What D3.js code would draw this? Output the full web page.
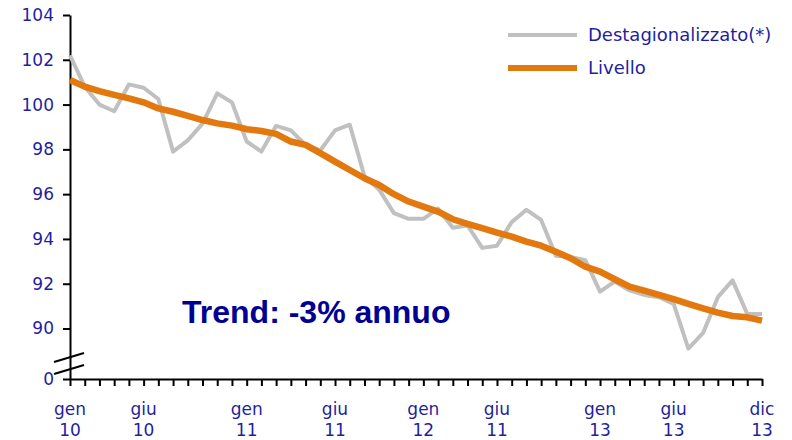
<!DOCTYPE html>
<html>
<head>
<meta charset="utf-8">
<script src="https://cdn.jsdelivr.net/npm/d3@7"></script>
<style>
  body { margin: 0; background: #fff; }
  svg { display: block; }
</style>
</head>
<body>
<svg id="chart" width="792" height="440"></svg>
<script>
// mesi da gen 10 a dic 13
const months = d3.range(48);

// Destagionalizzato(*)
const destag = [
  102.2, 100.8, 100.0, 99.7, 100.9, 100.75, 100.25, 97.9, 98.4, 99.15, 100.5, 100.1,
  98.35, 97.9, 99.05, 98.85, 98.2, 97.95, 98.85, 99.1, 96.8, 96.2, 95.15, 94.9,
  94.9, 95.35, 94.5, 94.6, 93.6, 93.7, 94.75, 95.3, 94.85, 93.25, 93.2, 93.05,
  91.65, 92.1, 91.7, 91.5, 91.4, 91.1, 89.1, 89.8, 91.4, 92.15, 90.65, 90.65
];

// Livello
const livello = [
  101.1, 100.8, 100.6, 100.43, 100.28, 100.1, 99.83, 99.68, 99.5, 99.31, 99.16, 99.06,
  98.9, 98.82, 98.69, 98.35, 98.2, 97.83, 97.45, 97.08, 96.71, 96.41, 96.0, 95.67,
  95.44, 95.22, 94.88, 94.67, 94.48, 94.28, 94.1, 93.88, 93.7, 93.43, 93.14, 92.76,
  92.54, 92.2, 91.87, 91.69, 91.5, 91.31, 91.1, 90.9, 90.71, 90.56, 90.5, 90.35
];

const yTicks = [0, 90, 92, 94, 96, 98, 100, 102, 104];
const xLabelPos = [0, 5, 12, 18, 24, 29, 36, 41, 47];
const xLabelTop = ["gen", "giu", "gen", "giu", "gen", "giu", "gen", "giu", "dic"];
const xLabelBottom = ["10", "10", "11", "11", "12", "11", "13", "13", "13"];

const blue = "#1f1fa0";
const grey = "#c0c0c0";
const orange = "#e2780e";

const svg = d3.select("#chart");

const x = d3.scaleLinear().domain([0, 47]).range([70, 762]);
// asse spezzato: 0 in basso, poi 88..104 lineare
const y = d3.scaleLinear().domain([0, 88, 104]).range([379, 373.3, 15]);

// asse y
const yAxis = svg.append("g")
    .attr("transform", "translate(70,0)")
    .call(d3.axisLeft(y).tickValues(yTicks).tickSize(7).tickSizeOuter(0).tickPadding(9));
yAxis.select(".domain").attr("stroke", "#000").attr("stroke-width", 2);
yAxis.selectAll(".tick line").attr("stroke", "#000").attr("stroke-width", 2);
yAxis.selectAll(".tick text")
    .attr("fill", blue)
    .style("font-family", "DejaVu Sans, Verdana, sans-serif")
    .style("font-size", "17px");

// asse x
const xAxis = svg.append("g")
    .attr("transform", "translate(0," + y(0) + ")")
    .call(d3.axisBottom(x).tickValues(months).tickSize(7).tickSizeOuter(0).tickFormat(""));
xAxis.select(".domain").attr("stroke", "#000").attr("stroke-width", 2);
xAxis.selectAll(".tick line").attr("stroke", "#000").attr("stroke-width", 2);

const xl = svg.append("g")
    .selectAll("text")
    .data(xLabelPos)
    .enter()
    .append("text")
    .attr("text-anchor", "middle")
    .attr("fill", blue)
    .style("font-family", "DejaVu Sans, Verdana, sans-serif")
    .style("font-size", "17px");
xl.append("tspan")
    .attr("x", d => x(d))
    .attr("y", y(0) + 36)
    .text((d, i) => xLabelTop[i]);
xl.append("tspan")
    .attr("x", d => x(d))
    .attr("y", y(0) + 57)
    .text((d, i) => xLabelBottom[i]);

// segni di interruzione dell'asse
[22, 10].forEach(off => {
    svg.append("line")
        .attr("x1", 54).attr("y1", y(0) - off + 5)
        .attr("x2", 84).attr("y2", y(0) - off - 4)
        .attr("stroke", "#000")
        .attr("stroke-width", 2);
});

// linee
const line = d3.line()
    .x((d, i) => x(months[i]))
    .y(d => y(d));

svg.append("path")
    .datum(destag)
    .attr("d", line)
    .attr("fill", "none")
    .attr("stroke", grey)
    .attr("stroke-width", 4)
    .attr("stroke-linejoin", "round");

svg.append("path")
    .datum(livello)
    .attr("d", line)
    .attr("fill", "none")
    .attr("stroke", orange)
    .attr("stroke-width", 6.5)
    .attr("stroke-linejoin", "round");

// legenda
const legend = [
    { name: "Destagionalizzato(*)", color: grey, w: 4 },
    { name: "Livello", color: orange, w: 6 }
];
const lg = svg.append("g").selectAll("g")
    .data(legend)
    .enter()
    .append("g")
    .attr("transform", (d, i) => "translate(508," + (35 + i * 33) + ")");
lg.append("line")
    .attr("x1", 0).attr("x2", 69)
    .attr("stroke", d => d.color)
    .attr("stroke-width", d => d.w);
lg.append("text")
    .attr("x", 80)
    .attr("dy", "0.35em")
    .attr("fill", blue)
    .style("font-family", "DejaVu Sans, Verdana, sans-serif")
    .style("font-size", "18px")
    .text(d => d.name);

// testo trend
svg.append("text")
    .attr("x", 182)
    .attr("y", 323)
    .attr("fill", "#000094")
    .style("font-family", "Liberation Sans, Arial, sans-serif")
    .style("font-weight", "bold")
    .style("font-size", "32px")
    .text("Trend: -3% annuo");
</script>
</body>
</html>
